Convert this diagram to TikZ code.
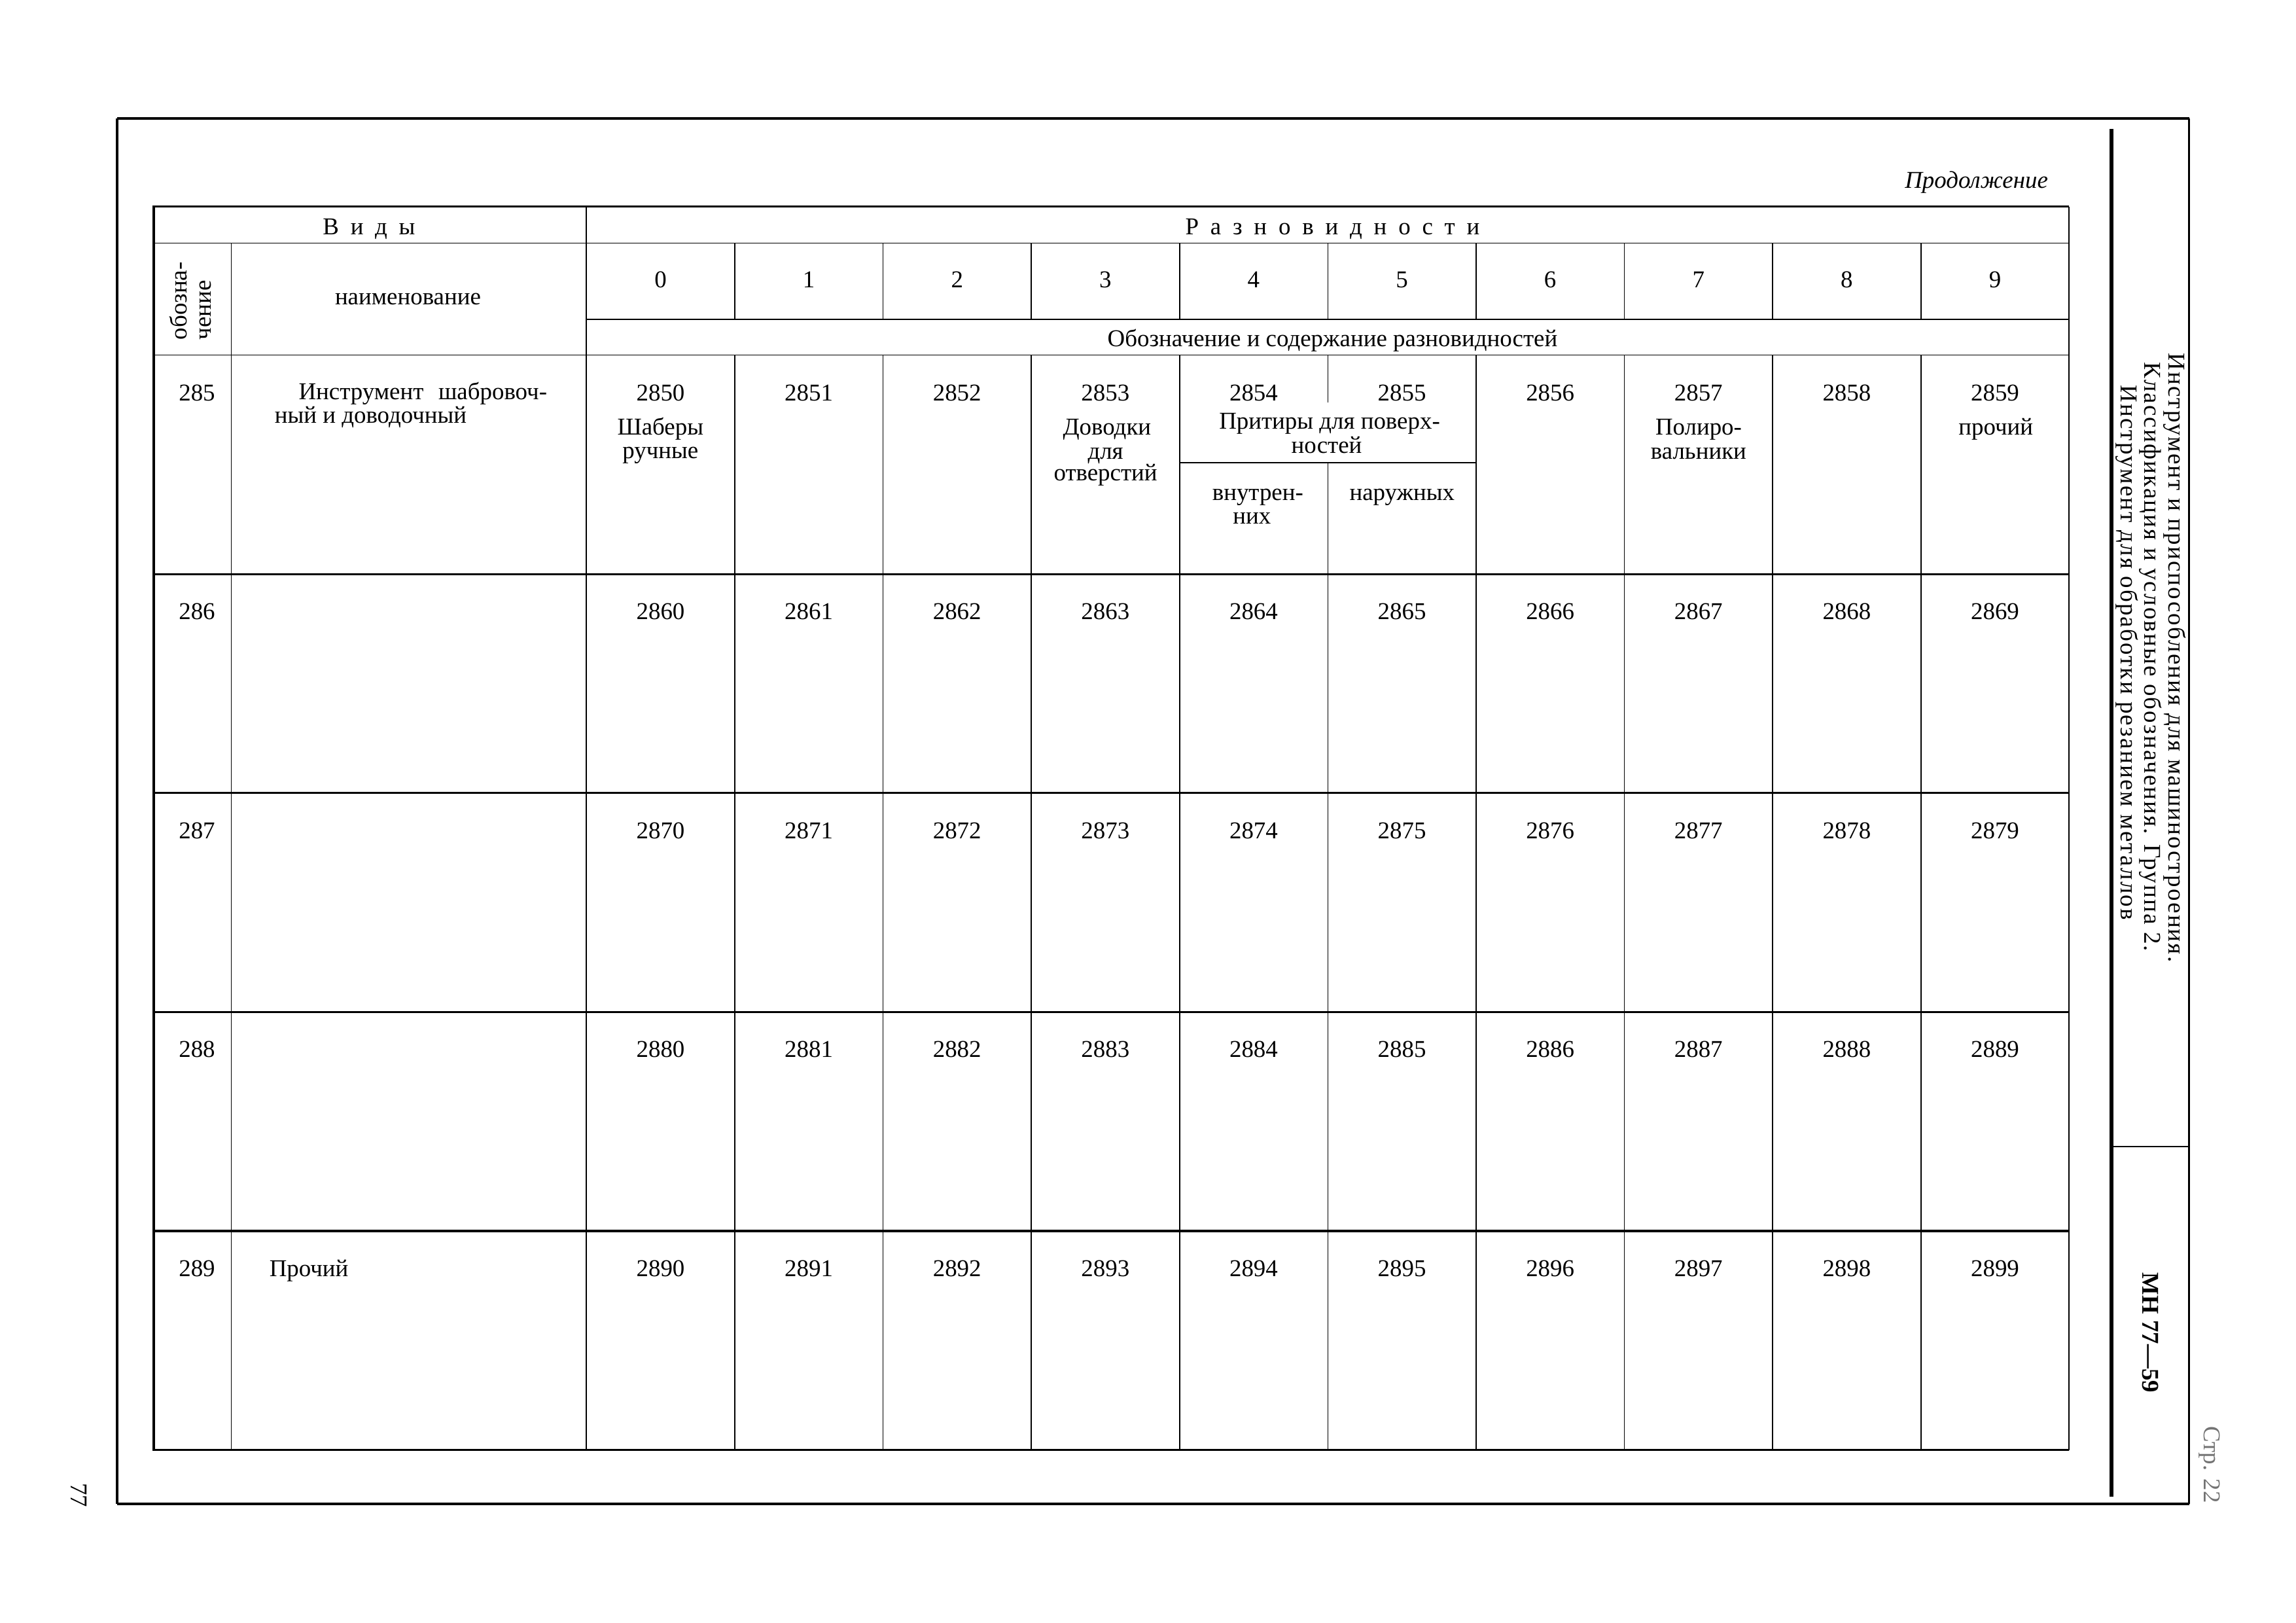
\documentclass[tikz,border=0pt]{standalone}
\usepackage{fontspec}
\setmainfont{Liberation Serif}
\newfontfamily\stripfont[LetterSpace=6]{Liberation Serif}
\begin{document}
\begin{tikzpicture}[x=0.02238cm,y=-0.02238cm,
  every node/.style={inner sep=0pt, outer sep=0pt, font=\fontsize{10.5pt}{10pt}\selectfont},
  txt/.style={anchor=base},
  txtw/.style={anchor=base west},
  framel/.style={line width=1.2pt},
  stripl/.style={line width=1.5pt},
  thickl/.style={line width=0.9pt},
  midl/.style={line width=0.65pt},
  thinl/.style={line width=0.45pt}]
\useasboundingbox[fill=white] (0,0) rectangle (1568,1108);

% ---------- outer frame ----------
\draw[framel] (80,81) -- (1495,81);
\draw[framel] (80,81) -- (80,1027);
\draw[framel] (80,1027) -- (1495,1027);
\draw[thickl] (1495,81) -- (1495,1027);
\draw[stripl] (1442,88) -- (1442,1022);
\draw[thinl] (1442,783) -- (1495,783);

% ---------- table grid ----------
\draw[midl] (104,141) -- (1413,141);
\draw[thickl] (105,141) -- (105,990);
\draw[thinl] (1413,141) -- (1413,990);
\draw[midl] (104,990) -- (1413,990);
\draw[thinl] (105,166) -- (1413,166);
\draw[thinl] (158,166) -- (158,990);
\draw[thinl] (400.5,141) -- (400.5,990);
\draw[thinl] (400.5,218) -- (1413,218);
\draw[thinl] (105,242.5) -- (1413,242.5);
\foreach \yy in {392,541.5,691,840.5} \draw[thickl] (105,\yy) -- (1413,\yy);
\foreach \i in {1,...,9} {
  \pgfmathsetmacro\xx{400.5+101.26*\i}
  \draw[thinl] (\xx,166) -- (\xx,218);
}
\foreach \i in {1,2,3,4,6,7,8,9} {
  \pgfmathsetmacro\xx{400.5+101.26*\i}
  \draw[thinl] (\xx,242.5) -- (\xx,990);
}
\draw[thinl] (906.8,242.5) -- (906.8,275);
\draw[thinl] (906.8,316) -- (906.8,990);
\draw[thinl] (805.54,316) -- (1008.06,316);

% ---------- header texts ----------
\node[anchor=base east] (prod) at (1398.6,128.5) {\itshape Продолжение};
\node[txt] (vidy) at (252,160) {\hbox to 1.41cm{В\hfil и\hfil д\hfil ы}};
\node[txt] (razn) at (910,160) {\hbox to 4.5cm{Р\hfil а\hfil з\hfil н\hfil о\hfil в\hfil и\hfil д\hfil н\hfil о\hfil с\hfil т\hfil и}};
\node[txtw,rotate=90] (obozn1) at (127.5,232) {обозна-};
\node[txtw,rotate=90] (obozn2) at (144,232) {чение};
\node[txt] (naim) at (278.6,207.8) {наименование};
\foreach \d in {0,...,9} {
  \pgfmathsetmacro\xx{451.1+101.26*\d}
  \node[txt] (dig\d) at (\xx,196.6) {\d};
}
\node[txt] (oboz) at (910,236.5) {Обозначение и содержание разновидностей};

% ---------- body: codes and varieties ----------
\foreach \k in {0,...,4} {
  \pgfmathsetmacro\yy{273.5+149.5*\k}
  \pgfmathtruncatemacro\code{285+\k}
  \node[txt] (code\code) at (134.5,\yy) {\code};
  \foreach \d in {0,...,9} {
    \pgfmathsetmacro\xx{451.1+101.26*\d}
    \pgfmathtruncatemacro\num{2850+10*\k+\d}
    \node[txt] (v\num) at (\xx,\yy) {\num};
  }
}

% row 285 texts
\node[txtw] (name285a) at (204,272.6) {\hbox to 3.796cm{Инструмент\hfill шабровоч-}};
\node[txtw] (name285b) at (187.6,289) {ный и доводочный};
\node[txt] (t0a) at (451,297) {Шаберы};
\node[txt] (t0b) at (451,313) {ручные};
\node[txt] (t3a) at (756,297) {Доводки};
\node[txt] (t3b) at (755,313.5) {для};
\node[txt] (t3c) at (755,328) {отверстий};
\node[txt] (t45a) at (908,292.7) {Притиры для поверх-};
\node[txt] (t45b) at (906,309.5) {ностей};
\node[txt] (t4a) at (859,341.8) {внутрен-};
\node[txt] (t4b) at (855,357.5) {них};
\node[txt] (t5a) at (957.5,341.8) {наружных};
\node[txt] (t7a) at (1160,297) {Полиро-};
\node[txt] (t7b) at (1160,313.5) {вальники};
\node[txt] (t9a) at (1363,297) {прочий};

% row 289
\node[txtw] (name289) at (184,871.5) {Прочий};

% ---------- side strip ----------
\node[txt,rotate=-90] (s1) at (1481,449) {\stripfont Инструмент и приспособления для машиностроения.};
\node[txt,rotate=-90] (s2) at (1464.5,448.5) {\stripfont Классификация и условные обозначения. Группа 2.};
\node[txt,rotate=-90] (s3) at (1448.5,445.5) {\stripfont Инструмент для обработки резанием металлов};
\node[txt,rotate=-90] (mn) at (1463,910) {\bfseries МН 77—59};
\node[txt,rotate=-90,text=black!55] (str) at (1505,1000) {Стр. 22};
\node[txt,rotate=-90] (pg) at (48.7,1021) {77};
\end{tikzpicture}
\end{document}
